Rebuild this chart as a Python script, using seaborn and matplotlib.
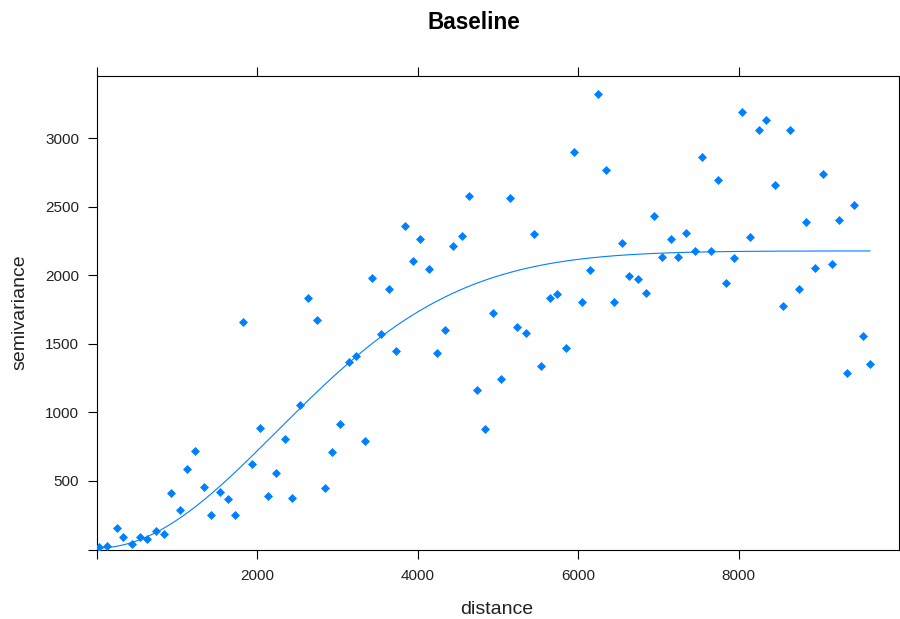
import numpy as np
import pandas as pd
import matplotlib
matplotlib.use("Agg")
import matplotlib.pyplot as plt
import seaborn as sns

# Empirical semivariogram: lag distance and semivariance per bin
distance = [
    32, 132, 257, 331, 448, 539, 630, 735, 842, 929,
    1038, 1129, 1233, 1340, 1428, 1536, 1639, 1727, 1823, 1943,
    2034, 2138, 2242, 2346, 2437, 2541, 2632, 2741, 2844, 2935,
    3035, 3143, 3234, 3339, 3430, 3538, 3641, 3731, 3841, 3944,
    4031, 4140, 4243, 4337, 4441, 4547, 4638, 4741, 4834, 4937,
    5040, 5149, 5239, 5346, 5452, 5539, 5647, 5734, 5843, 5946,
    6050, 6143, 6249, 6352, 6441, 6547, 6638, 6746, 6849, 6943,
    7046, 7151, 7242, 7345, 7454, 7543, 7649, 7740, 7842, 7946,
    8039, 8145, 8247, 8342, 8450, 8554, 8641, 8745, 8836, 8945,
    9048, 9157, 9248, 9351, 9438, 9547, 9638,
]
semivariance = [
    21, 26, 157, 94, 41, 94, 77, 138, 112, 413,
    289, 587, 721, 454, 252, 420, 367, 252, 1659, 624,
    888, 393, 560, 808, 376, 1054, 1832, 1671, 447, 711,
    915, 1364, 1409, 792, 1982, 1569, 1903, 1445, 2361, 2106,
    2264, 2045, 1435, 1601, 2211, 2289, 2582, 1161, 879, 1724,
    1241, 2564, 1620, 1577, 2298, 1338, 1832, 1861, 1469, 2898,
    1806, 2036, 3323, 2767, 1806, 2237, 1992, 1972, 1868, 2431,
    2133, 2264, 2133, 2308, 2176, 2864, 2175, 2696, 1947, 2123,
    3190, 2281, 3057, 3136, 2660, 1778, 3058, 1902, 2388, 2052,
    2740, 2079, 2405, 1285, 2512, 1557, 1355,
]

# Fitted Gaussian variogram model
nugget = 10
partial_sill = 2168
model_range = 3180

x_ticks = [0, 2000, 4000, 6000, 8000]
x_tick_labels = ["", "2000", "4000", "6000", "8000"]
y_ticks = [0, 500, 1000, 1500, 2000, 2500, 3000]
y_tick_labels = ["", "500", "1000", "1500", "2000", "2500", "3000"]

points = pd.DataFrame({"distance": distance, "semivariance": semivariance})
h = np.linspace(0, max(distance), 300)
fit = pd.DataFrame({
    "distance": h,
    "semivariance": nugget + partial_sill * (1 - np.exp(-(h / model_range) ** 2)),
})

sns.set_theme(style="white")
plt.rcParams["font.family"] = ["Liberation Sans", "DejaVu Sans"]

blue = "#0080ff"
fig = plt.figure(figsize=(9, 6.19), dpi=100)
ax = fig.add_axes([96.5 / 900, 1 - 549.5 / 619, (899.3 - 96.5) / 900, (549.5 - 75.7) / 619])

sns.lineplot(data=fit, x="distance", y="semivariance", color=blue, linewidth=0.8, ax=ax)
sns.scatterplot(data=points, x="distance", y="semivariance", marker="D", s=21,
                color=blue, linewidth=0, ax=ax, zorder=3)

ax.set_xlim(0, 10000)
ax.set_ylim(0, 1.04 * max(semivariance))

ax.set_xticks(x_ticks)
ax.set_xticklabels(x_tick_labels)
ax.set_yticks(y_ticks)
ax.set_yticklabels(y_tick_labels)

ax.tick_params(axis="both", which="major", direction="out", length=6.5, width=0.8,
               color="black", labelsize=11, labelcolor="#222222", pad=6)
ax.tick_params(axis="x", top=True, bottom=True, labeltop=False, pad=7.5)
ax.tick_params(axis="y", left=True, right=False)

for side in ["left", "right", "top", "bottom"]:
    ax.spines[side].set_visible(True)
    ax.spines[side].set_color("black")
    ax.spines[side].set_linewidth(0.8)

ax.grid(False)
ax.set_xlabel("distance", fontsize=14, color="#222222", va="center")
ax.set_ylabel("semivariance", fontsize=14, color="#222222", va="center")
ax.xaxis.set_label_coords((497 - 96.5) / 802.8, -(610 - 549.5) / 473.8)
ax.yaxis.set_label_coords(-(96.5 - 20) / 802.8, 0.5)

fig.suptitle("Baseline", x=473.7 / 900, y=1 - 22.5 / 619, va="center",
             fontsize=16.3, fontweight="bold", color="black")

fig.savefig("out.png", dpi=100, facecolor="white")
